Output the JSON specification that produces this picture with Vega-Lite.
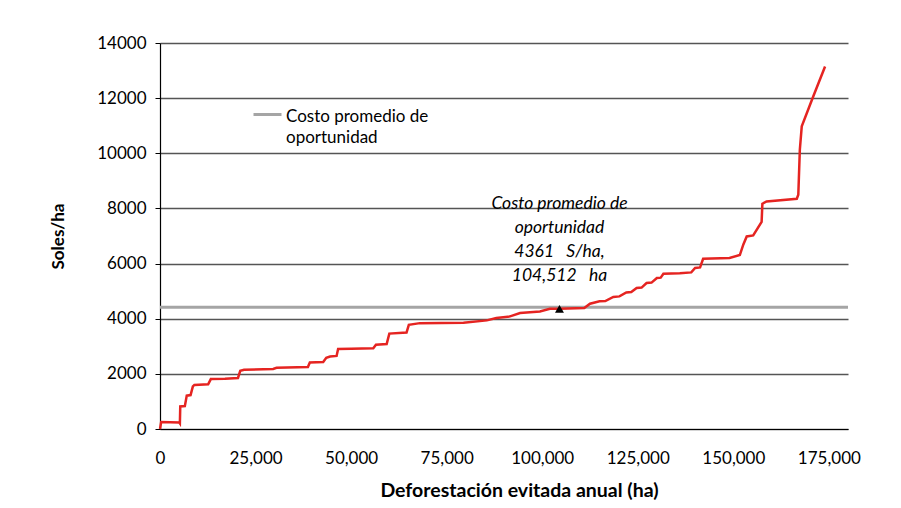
{
  "$schema": "https://vega.github.io/schema/vega-lite/v6.json",
  "width": 688,
  "height": 386,
  "autosize": {"type": "none"},
  "padding": {"left": 160, "top": 43, "right": 53, "bottom": 79},
  "background": "white",
  "config": {
    "font": "Lato",
    "view": {"stroke": null},
    "axis": {"labelFont": "Lato", "titleFont": "Lato", "labelColor": "#000", "titleColor": "#000"}
  },
  "datasets": {
    "curve": [
      {"ha": 0, "soles": 0}, {"ha": 300, "soles": 250}, {"ha": 5000, "soles": 240}, {"ha": 5200, "soles": 200},
      {"ha": 5300, "soles": 820}, {"ha": 6500, "soles": 830}, {"ha": 7000, "soles": 1210}, {"ha": 8000, "soles": 1230},
      {"ha": 8600, "soles": 1545}, {"ha": 9000, "soles": 1600}, {"ha": 12600, "soles": 1620}, {"ha": 13300, "soles": 1810},
      {"ha": 17000, "soles": 1820}, {"ha": 20400, "soles": 1850}, {"ha": 21000, "soles": 2110}, {"ha": 22000, "soles": 2150},
      {"ha": 29600, "soles": 2180}, {"ha": 30500, "soles": 2220}, {"ha": 38700, "soles": 2250}, {"ha": 39200, "soles": 2410},
      {"ha": 42700, "soles": 2430}, {"ha": 43500, "soles": 2580}, {"ha": 44500, "soles": 2630}, {"ha": 46200, "soles": 2650},
      {"ha": 46600, "soles": 2900}, {"ha": 50000, "soles": 2910}, {"ha": 55800, "soles": 2930}, {"ha": 56500, "soles": 3060},
      {"ha": 59300, "soles": 3080}, {"ha": 60000, "soles": 3460}, {"ha": 64500, "soles": 3500}, {"ha": 65100, "soles": 3780},
      {"ha": 68000, "soles": 3840}, {"ha": 79400, "soles": 3850}, {"ha": 85500, "soles": 3940}, {"ha": 88000, "soles": 4025},
      {"ha": 91600, "soles": 4085}, {"ha": 94200, "soles": 4205}, {"ha": 99400, "soles": 4265}, {"ha": 102000, "soles": 4360},
      {"ha": 104512, "soles": 4361}, {"ha": 111000, "soles": 4390}, {"ha": 112500, "soles": 4545}, {"ha": 115000, "soles": 4630},
      {"ha": 116500, "soles": 4640}, {"ha": 118600, "soles": 4790}, {"ha": 120200, "soles": 4810}, {"ha": 122000, "soles": 4955},
      {"ha": 123300, "soles": 4970}, {"ha": 124700, "soles": 5115}, {"ha": 126000, "soles": 5130}, {"ha": 127300, "soles": 5295},
      {"ha": 128600, "soles": 5310}, {"ha": 130000, "soles": 5475}, {"ha": 131000, "soles": 5490}, {"ha": 131700, "soles": 5630},
      {"ha": 136000, "soles": 5650}, {"ha": 139000, "soles": 5680}, {"ha": 140000, "soles": 5840}, {"ha": 141300, "soles": 5860},
      {"ha": 142100, "soles": 6175}, {"ha": 149000, "soles": 6200}, {"ha": 151700, "soles": 6310}, {"ha": 152600, "soles": 6685},
      {"ha": 153500, "soles": 6985}, {"ha": 155200, "soles": 7020}, {"ha": 157400, "soles": 7510}, {"ha": 157600, "soles": 8170},
      {"ha": 158700, "soles": 8255}, {"ha": 166600, "soles": 8350}, {"ha": 167000, "soles": 8500}, {"ha": 167400, "soles": 10130},
      {"ha": 167900, "soles": 10975}, {"ha": 170900, "soles": 12060}, {"ha": 174000, "soles": 13150}
    ],
    "promedio": [{"serie": "Costo promedio de oportunidad", "soles": 4420}],
    "punto": [{"ha": 104512, "soles": 4361, "texto": ["Costo promedio de", "oportunidad", "4361\u00a0\u00a0\u00a0S/ha,", "104,512\u00a0\u00a0\u00a0ha"]}]
  },
  "layer": [
    {
      "data": {"name": "promedio"},
      "mark": {"type": "rule", "strokeWidth": 3},
      "encoding": {
        "y": {"field": "soles", "type": "quantitative", "scale": {"domain": [0, 14000], "nice": false},
          "axis": {"values": [0, 2000, 4000, 6000, 8000, 10000, 12000, 14000], "format": "d", "title": "Soles/ha",
            "grid": true, "gridColor": "#555", "gridWidth": 1.3, "domainColor": "#000", "domainWidth": 1.2,
            "tickColor": "#000", "tickSize": 5, "labelPadding": 9, "labelFontSize": 17,
            "titleFontSize": 17, "titleFontWeight": "bold", "titlePadding": 29}},
        "stroke": {"field": "serie", "type": "nominal", "scale": {"range": ["#a5a5a5"]},
          "legend": {"title": null, "orient": "none", "legendX": 92, "legendY": 56, "symbolType": "stroke",
            "symbolSize": 784, "symbolStrokeWidth": 3, "labelFontSize": 17, "labelColor": "#000", "labelLimit": 0,
            "labelOffset": 3, "labelBaseline": "top",
            "labelExpr": "['Costo promedio de', 'oportunidad']",
            "encode": {"labels": {"update": {"dy": {"value": -6}, "lineHeight": {"value": 21}}}}}}
      }
    },
    {
      "data": {"name": "curve"},
      "mark": {"type": "line", "color": "#e52421", "strokeWidth": 2.5},
      "encoding": {
        "x": {"field": "ha", "type": "quantitative", "scale": {"domain": [0, 180000], "nice": false},
          "axis": {"values": [0, 25000, 50000, 75000, 100000, 125000, 150000, 175000], "format": ",d",
            "title": "Deforestación evitada anual (ha)", "grid": false, "ticks": false, "labelFlush": false,
            "labelOverlap": false,
            "domainColor": "#000", "domainWidth": 1.2, "labelPadding": 21, "labelFontSize": 17,
            "titleFontSize": 19.5, "titleFontWeight": "bold", "titlePadding": 15, "titleX": 359}},
        "y": {"field": "soles", "type": "quantitative"}
      }
    },
    {
      "data": {"name": "punto"},
      "mark": {"type": "point", "shape": "triangle-up", "filled": true, "color": "#000", "size": 80, "opacity": 1},
      "encoding": {
        "x": {"field": "ha", "type": "quantitative"},
        "y": {"field": "soles", "type": "quantitative"}
      }
    },
    {
      "data": {"name": "punto"},
      "mark": {"type": "text", "fontStyle": "italic", "fontSize": 17.5, "align": "center", "baseline": "alphabetic",
        "lineHeight": 24, "dy": -100, "color": "#000"},
      "encoding": {
        "x": {"field": "ha", "type": "quantitative"},
        "y": {"field": "soles", "type": "quantitative"},
        "text": {"field": "texto"}
      }
    }
  ]
}
